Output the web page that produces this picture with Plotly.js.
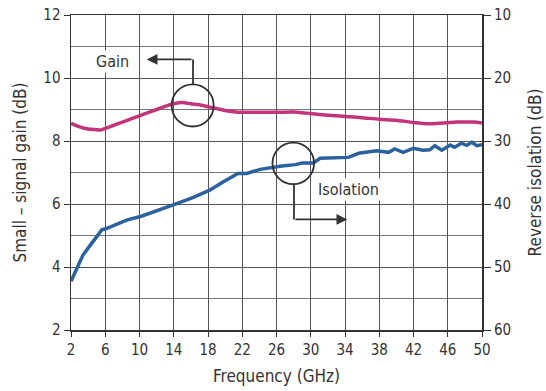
<!DOCTYPE html>
<html><head><meta charset="utf-8">
<script src="https://cdn.plot.ly/plotly-3.0.1.min.js"></script>
<style>body{margin:0;background:#fff}#c{width:546px;height:391px}</style>
</head><body><div id="c"></div>
<script>
const gainFreq = [2,3,4,5,5.5,6,7,8,9,10,11,12,13,14,15,16,17,18,19,20,21,22,24,26,28,29,30,32,34,36,38,40,42,44,45,46,47,48,49,50];
const gainDb   = [8.56,8.45,8.38,8.36,8.35,8.4,8.5,8.6,8.7,8.8,8.9,9.0,9.1,9.18,9.22,9.18,9.15,9.09,9.03,8.97,8.93,8.91,8.91,8.91,8.92,8.9,8.87,8.82,8.78,8.74,8.69,8.66,8.59,8.55,8.56,8.58,8.6,8.6,8.6,8.57];
const isoFreq = [2,3,3.4,4,5,5.6,6.2,7,8.5,10.3,12.4,14.1,16.3,18.2,19.8,21,21.5,22.5,24.1,26.4,28.2,29,30.3,31.1,33,34.4,35.6,37.7,39.1,39.8,40.8,42,43.1,43.9,44.5,45.3,46.3,46.8,47.6,48.2,48.8,49.4,50];
const isoDb   = [52.25,49.25,48.1,47.0,45.1,44.1,43.85,43.35,42.55,41.9,40.95,40.05,38.95,37.8,36.45,35.5,35.15,35.15,34.5,34.0,33.75,33.5,33.5,32.75,32.6,32.6,31.95,31.55,31.8,31.25,31.8,31.15,31.45,31.4,30.75,31.45,30.65,31.0,30.35,30.7,30.2,30.75,30.6];
const xTicks = [2,6,10,14,18,22,26,30,34,38,42,46,50];

const FONT = "Tahoma, 'DejaVu Sans Condensed', 'DejaVu Sans', sans-serif";
const traces = [
  {x: gainFreq, y: gainDb, type:'scatter', mode:'lines', line:{color:'#C4347A', width:3.5, shape:'spline', smoothing:0.6}, xaxis:'x', yaxis:'y', hoverinfo:'skip'},
  {x: isoFreq, y: isoDb, type:'scatter', mode:'lines', line:{color:'#2B619D', width:3.5}, xaxis:'x', yaxis:'y2', hoverinfo:'skip'}
];
const axFont = {family: FONT, size: 15, color:'#333'};
const titleFont = {family: FONT, size: 17, color:'#333'};
const layout = {
  width:546, height:391, showlegend:false,
  margin:{l:71, r:64, t:15, b:61},
  paper_bgcolor:'#fff', plot_bgcolor:'#fff',
  font:{family: FONT, color:'#333'},
  xaxis:{range:[2,50], tickvals:xTicks, ticktext:xTicks.map(String), showgrid:true, gridcolor:'#555', gridwidth:1,
    showline:true, linecolor:'#333', linewidth:1.5, mirror:true, ticks:'outside', ticklen:5, tickcolor:'#333',
    tickfont:axFont, zeroline:false, title:{text:'Frequency (GHz)', font:titleFont, standoff:12}},
  yaxis:{range:[2,12], dtick:2, tick0:2, showgrid:true, gridcolor:'#555', gridwidth:1,
    minor:{dtick:1, showgrid:true, gridcolor:'#777', gridwidth:1},
    showline:true, linecolor:'#333', linewidth:1.5, mirror:true, ticks:'outside', ticklen:6, tickcolor:'#333',
    tickfont:axFont, zeroline:false, title:{text:'Small – signal gain (dB)', font:titleFont, standoff:12}},
  yaxis2:{range:[60,10], dtick:10, tick0:10, overlaying:'y', side:'right', showgrid:false, zeroline:false,
    showline:false, ticks:'outside', ticklen:8, tickcolor:'#333',
    tickfont:axFont, title:{text:'Reverse isolation (dB)', font:titleFont, standoff:18}},
  shapes:[
    {type:'circle', xref:'x', yref:'y', x0:16.21-2.45, x1:16.21+2.45, y0:9.13-0.67, y1:9.13+0.67, line:{color:'#333', width:1.8}},
    {type:'line', xref:'x', yref:'y', x0:16.25, x1:16.25, y0:9.8, y1:10.59, line:{color:'#333', width:1.8}},
    {type:'circle', xref:'x', yref:'y', x0:27.96-2.43, x1:27.96+2.43, y0:7.29-0.66, y1:7.29+0.66, line:{color:'#333', width:1.8}},
    {type:'line', xref:'x', yref:'y', x0:28.04, x1:28.04, y0:6.63, y1:5.51, line:{color:'#333', width:1.8}}
  ],
  annotations:[
    {xref:'x', yref:'y', x:10.84, y:10.59, ax:16.25, ay:10.59, axref:'x', ayref:'y', text:'', showarrow:true, arrowhead:2, arrowsize:1.2, arrowwidth:1.8, arrowcolor:'#333'},
    {xref:'x', yref:'y', x:34.27, y:5.51, ax:28.04, ay:5.51, axref:'x', ayref:'y', text:'', showarrow:true, arrowhead:2, arrowsize:1.2, arrowwidth:1.8, arrowcolor:'#333'},
    {xref:'x', yref:'y', x:6.9, y:10.51, text:'Gain', showarrow:false, font:{family:FONT, size:16, color:'#333'}, bgcolor:'#fff'},
    {xref:'x', yref:'y', x:34.35, y:6.47, text:'Isolation', showarrow:false, font:{family:FONT, size:16, color:'#333'}, bgcolor:'#fff'}
  ]
};
Plotly.newPlot('c', traces, layout, {displayModeBar:false, staticPlot:true});
</script></body></html>
